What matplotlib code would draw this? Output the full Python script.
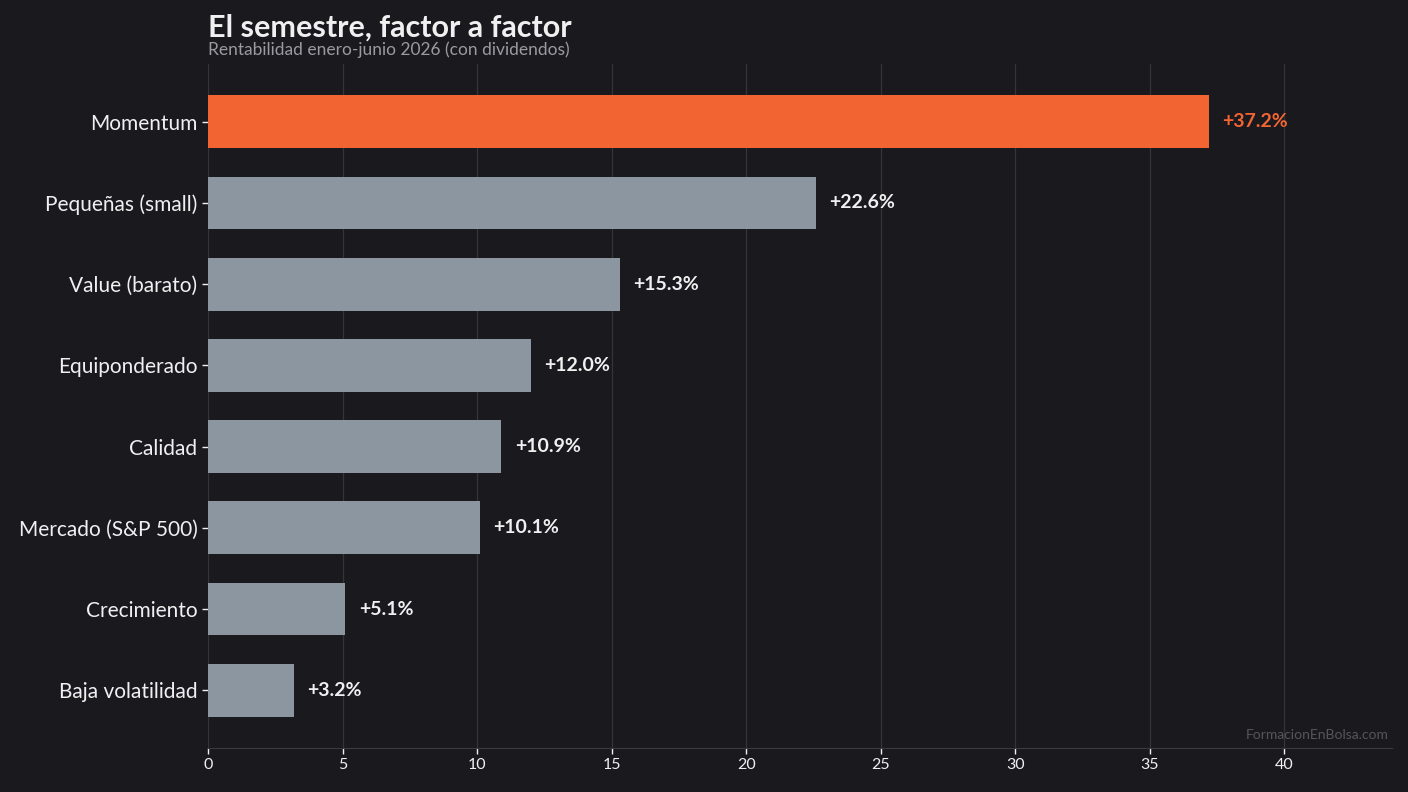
import matplotlib
matplotlib.use('Agg')
import matplotlib.pyplot as plt

factores = ['Momentum', 'Pequeñas (small)', 'Value (barato)', 'Equiponderado',
            'Calidad', 'Mercado (S&P 500)', 'Crecimiento', 'Baja volatilidad']
rentabilidad = [37.2, 22.6, 15.3, 12.0, 10.9, 10.1, 5.1, 3.2]
xticks = [0, 5, 10, 15, 20, 25, 30, 35, 40]

bg = '#1a191e'
naranja = '#f26532'
gris = '#8c96a0'
texto = '#f0f0f0'

plt.rcParams['font.family'] = ['Lato', 'DejaVu Sans']

fig = plt.figure(figsize=(14.08, 7.92), dpi=100, facecolor=bg)
ax = fig.add_axes([208 / 1408, 44 / 792, 1184 / 1408, 684 / 792], facecolor=bg)

colores = [naranja if i == 0 else gris for i in range(len(factores))]
y = list(range(len(factores)))
ax.barh(y, rentabilidad, height=0.65, color=colores, zorder=3)

for i, v in enumerate(rentabilidad):
    ax.text(v + 0.5, i, f'+{v:.1f}%', va='center', ha='left', fontsize=14,
            fontweight='bold', color=naranja if i == 0 else texto, zorder=4)

ax.set_yticks(y)
ax.set_yticklabels(factores, fontsize=15, color=texto)
ax.set_ylim(len(factores) - 1 + 0.71, -0.71)
ax.set_xlim(0, 44)
ax.set_xticks(xticks)
ax.tick_params(axis='x', colors=texto, labelsize=11.5, length=4, width=1)
ax.tick_params(axis='y', colors=texto, length=4, width=1)

ax.grid(axis='x', color='#34343a', linewidth=0.9, zorder=0)
ax.set_axisbelow(True)
for s in ['top', 'right', 'left']:
    ax.spines[s].set_visible(False)
ax.spines['bottom'].set_color('#3a3a40')

fig.text(208 / 1408, 1 - 28 / 792, 'El semestre, factor a factor', fontsize=22,
         fontweight='bold', color=texto, ha='left', va='center')
fig.text(208 / 1408, 1 - 50 / 792, 'Rentabilidad enero-junio 2026 (con dividendos)',
         fontsize=12.5, color='#9a9aa2', ha='left', va='center')
ax.text(0.997, 0.01, 'FormacionEnBolsa.com', transform=ax.transAxes, ha='right',
        va='bottom', fontsize=10, color='#55555c')

fig.savefig('out.png', dpi=100, facecolor=bg)
